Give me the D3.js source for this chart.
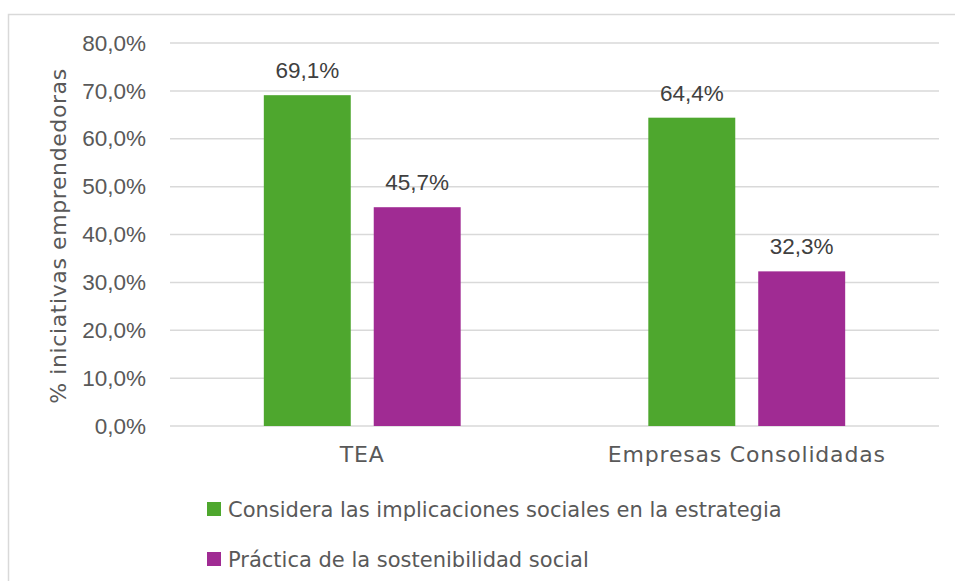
<!DOCTYPE html>
<head>
  <meta charset="utf-8">
  <script src="https://d3js.org/d3.v7.min.js"></script>
  <style>
    body { margin: 0; background: #fff; }
    svg { display: block; font-family: "Liberation Sans", Arial, sans-serif; }
  </style>
</head>
<body>
  <svg width="955" height="581"></svg>
  <script>
    var categories = ['TEA', 'Empresas Consolidadas'];
    var seriesNames = [
      'Considera las implicaciones sociales en la estrategia',
      'Práctica de la sostenibilidad social'
    ];
    var seriesColors = ['#4ea72e', '#a02b93'];
    var considera = [69.1, 64.4];
    var practica = [45.7, 32.3];
    var yTicks = [0, 10, 20, 30, 40, 50, 60, 70, 80];

    var rows = categories.map(function(c, i) {
      return { cat: c, values: [considera[i], practica[i]] };
    });

    var wideFont = '"DejaVu Sans", sans-serif';
    var svg = d3.select('svg');
    var margin = { left: 170, right: 16, top: 43, bottom: 155 };
    var width = 955 - margin.left - margin.right;
    var height = 581 - margin.top - margin.bottom;

    // chart frame (cut off on right/bottom like the source screenshot)
    svg.append('rect')
      .attr('x', 8.5).attr('y', 14.5)
      .attr('width', 960).attr('height', 600)
      .attr('fill', 'none')
      .attr('stroke', '#d9d9d9')
      .attr('stroke-width', 1.5);

    var g = svg.append('g')
      .attr('transform', 'translate(' + [margin.left, margin.top] + ')');

    var y = d3.scaleLinear().domain([0, 80]).range([height, 0]);
    var x0 = d3.scaleBand().domain(categories).range([0, width]).padding(0);
    var groupW = x0.bandwidth() * 0.512;
    var x1 = d3.scaleBand().domain([0, 1])
      .range([(x0.bandwidth() - groupW) / 2, (x0.bandwidth() + groupW) / 2])
      .paddingInner(0.209);

    var fmt = function(v) { return d3.format('.1f')(v).replace('.', ',') + '%'; };

    // gridlines
    g.append('g').selectAll('line')
      .data(yTicks).enter().append('line')
      .attr('x1', 0).attr('x2', width)
      .attr('y1', function(d) { return y(d); })
      .attr('y2', function(d) { return y(d); })
      .attr('stroke', '#d9d9d9')
      .attr('stroke-width', 1.5);

    // y axis labels
    var yAxis = d3.axisLeft(y).tickValues(yTicks).tickSize(0).tickPadding(24)
      .tickFormat(fmt);
    var ya = g.append('g').call(yAxis);
    ya.select('.domain').remove();
    ya.selectAll('text')
      .attr('fill', '#595959')
      .style('font-size', '22.5px')
      .style('font-family', '"Liberation Sans", Arial, sans-serif');

    // y title
    svg.append('text')
      .attr('transform', 'translate(66,' + 236 + ')rotate(-90)')
      .attr('text-anchor', 'middle')
      .attr('fill', '#595959')
      .style('font-size', '22px')
      .style('letter-spacing', '0.6px')
      .style('font-family', wideFont)
      .text('% iniciativas emprendedoras');

    // bars
    var groups = g.selectAll('g.cat')
      .data(rows).enter().append('g')
      .attr('class', 'cat')
      .attr('transform', function(d) { return 'translate(' + x0(d.cat) + ',0)'; });

    groups.selectAll('rect')
      .data(function(d) { return d.values.map(function(v, i) { return { v: v, i: i }; }); })
      .enter().append('rect')
      .attr('x', function(d) { return x1(d.i); })
      .attr('width', x1.bandwidth())
      .attr('y', function(d) { return y(d.v); })
      .attr('height', function(d) { return height - y(d.v); })
      .attr('fill', function(d) { return seriesColors[d.i]; });

    groups.selectAll('text')
      .data(function(d) { return d.values.map(function(v, i) { return { v: v, i: i }; }); })
      .enter().append('text')
      .attr('x', function(d) { return x1(d.i) + x1.bandwidth() / 2; })
      .attr('y', function(d) { return y(d.v) - 17; })
      .attr('text-anchor', 'middle')
      .attr('fill', '#404040')
      .style('font-size', '22.5px')
      .text(function(d) { return fmt(d.v); });

    // x axis labels
    var xAxis = d3.axisBottom(x0).tickSize(0).tickPadding(20);
    var xa = g.append('g').attr('transform', 'translate(0,' + height + ')').call(xAxis);
    xa.select('.domain').remove();
    xa.selectAll('text')
      .attr('fill', '#595959')
      .style('font-size', '22px')
      .style('letter-spacing', '0.8px')
      .style('font-family', wideFont);

    // legend
    var legend = svg.append('g').selectAll('g')
      .data(seriesNames).enter().append('g')
      .attr('transform', function(d, i) { return 'translate(207,' + (502 + i * 50) + ')'; });
    legend.append('rect')
      .attr('width', 14).attr('height', 14)
      .attr('fill', function(d, i) { return seriesColors[i]; });
    legend.append('text')
      .attr('x', 21).attr('y', 15)
      .attr('fill', '#595959')
      .style('font-size', '21px')
      .style('font-family', wideFont)
      .text(function(d) { return d; });
  </script>
</body>
